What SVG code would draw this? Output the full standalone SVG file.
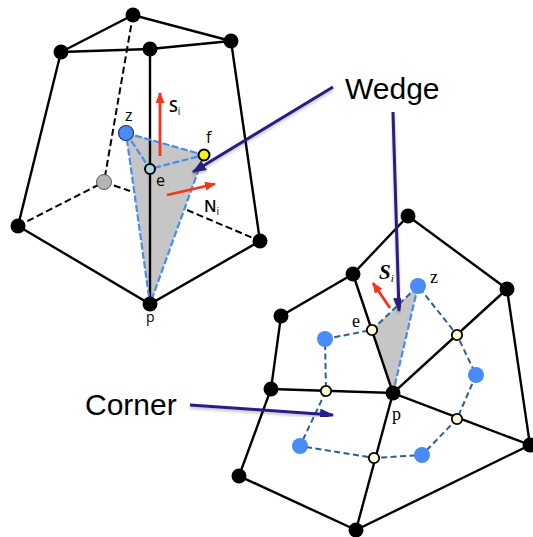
<svg xmlns="http://www.w3.org/2000/svg" width="533" height="537" viewBox="0 0 533 537">
<style>
.e{stroke:#000;stroke-width:2.4;fill:none}
.d{stroke:#000;stroke-width:2;fill:none;stroke-dasharray:7 3.5}
.b{stroke:#4a8bee;stroke-width:2.2;fill:none;stroke-dasharray:7 2.5}
.n{stroke:#2f5f8f;stroke-width:2;fill:none;stroke-dasharray:6 3.5}
.r{stroke:#f8331a;stroke-width:2.8;fill:none}
.a{stroke:#2a1d80;stroke-width:3;fill:none;filter:url(#sh)}
.k{fill:#000}
.u{fill:#4a8cf7}
.m{fill:#fbfbd2;stroke:#000;stroke-width:1.8}
.s{font-family:"Open Sans","Liberation Sans",sans-serif;fill:#000}
.t{font-family:"Liberation Serif",serif;fill:#000}
.big{font-family:"Liberation Sans",sans-serif;font-size:30px;fill:#000}
</style>
<defs>
<filter id="sh" x="-20%" y="-20%" width="140%" height="140%"><feDropShadow dx="0" dy="2" stdDeviation="1.5" flood-color="#000" flood-opacity="0.25"/></filter>
<marker id="ra" markerUnits="userSpaceOnUse" markerWidth="12" markerHeight="10" refX="10" refY="4.5" orient="auto"><path d="M0 0L11 4.5L0 9Z" fill="#f8331a"/></marker>
<marker id="ba" markerUnits="userSpaceOnUse" markerWidth="15" markerHeight="12" refX="13" refY="5.5" orient="auto"><path d="M0 0L14 5.5L0 11Z" fill="#2a1d80"/></marker>
</defs>
<g id="wedge-fills">
<polygon points="126,133 204,155 150,304" fill="#c6c6c6"/>
<polygon points="372,330 418,286 393,393" fill="#c6c6c6"/>
</g>
<g id="connectors">
<path class="e" d="M61,52L133,15L231,41L150,49L61,52M61,52L18,226L150,304L260,241L231,41M150,49V304"/>
<path class="d" d="M133,15L104,182M18,226L104,182M104,182L130,191M187,210L260,241"/>
<path class="b" d="M126,133L204,155L150,304L126,133M126,133L150,169L204,155"/>
<path class="e" d="M408,216L507,289L530,445L356,530L239,476L271,389L281,316L353,274L408,216M353,274L393,393L271,389M507,289L393,393L530,445M393,393L356,530"/>
<path class="n" d="M325,339L372,330L418,286L457,335L476,375L457,419L422,455L374,458L300,446L326,391L325,339"/>
<path class="b" d="M418,286L393,393"/>
<path class="r" marker-end="url(#ra)" d="M160,156V93"/>
<path class="r" marker-end="url(#ra)" d="M167,195L215,184"/>
<path class="r" marker-end="url(#ra)" d="M390,308L373,283"/>
<path class="a" marker-end="url(#ba)" d="M333,87L193,172"/>
<path class="a" marker-end="url(#ba)" d="M393,112L399,311"/>
<path class="a" marker-end="url(#ba)" d="M190,405L333,415"/>
</g>
<g id="nodes">
<circle id="t1" class="k" cx="133" cy="15" r="7.5"/>
<circle id="t2" class="k" cx="231" cy="41" r="7.5"/>
<circle id="t3" class="k" cx="150" cy="49" r="7.5"/>
<circle id="t4" class="k" cx="61" cy="52" r="7.5"/>
<circle id="t5" class="k" cx="18" cy="226" r="7.5"/>
<circle id="t6" class="k" cx="260" cy="241" r="7.5"/>
<circle id="t7" class="k" cx="150" cy="304" r="7.5"/>
<circle id="t-gray" cx="104" cy="182" r="7.5" fill="#b4b4b4" stroke="#555" stroke-width="1"/>
<circle id="t-z" cx="126" cy="133" r="7.5" fill="#4a8cf7" stroke="#1d3b70" stroke-width="1.2"/>
<circle id="t-f" cx="204" cy="155" r="5.5" fill="#f8f020" stroke="#000" stroke-width="2"/>
<circle id="t-e" cx="150" cy="169" r="5" fill="#a4d8e4" stroke="#000" stroke-width="2"/>
<circle id="b1" class="k" cx="408" cy="216" r="7.5"/>
<circle id="b2" class="k" cx="507" cy="289" r="7.5"/>
<circle id="b3" class="k" cx="353" cy="274" r="7.5"/>
<circle id="b4" class="k" cx="281" cy="316" r="7.5"/>
<circle id="b5" class="k" cx="271" cy="389" r="7.5"/>
<circle id="b6" class="k" cx="393" cy="393" r="7.5"/>
<circle id="b7" class="k" cx="239" cy="476" r="7.5"/>
<circle id="b8" class="k" cx="356" cy="530" r="7.5"/>
<circle id="b9" class="k" cx="530" cy="445" r="7.5"/>
<circle id="m1" class="m" cx="372" cy="330" r="5.2"/>
<circle id="m2" class="m" cx="457" cy="335" r="5.2"/>
<circle id="m3" class="m" cx="326" cy="391" r="5.2"/>
<circle id="m4" class="m" cx="457" cy="419" r="5.2"/>
<circle id="m5" class="m" cx="374" cy="458" r="5.2"/>
<circle id="u1" class="u" cx="418" cy="286" r="8"/>
<circle id="u2" class="u" cx="325" cy="339" r="8"/>
<circle id="u3" class="u" cx="476" cy="375" r="8"/>
<circle id="u4" class="u" cx="422" cy="455" r="8"/>
<circle id="u5" class="u" cx="300" cy="446" r="8"/>
</g>
<g id="labels">
<text class="big" x="345" y="99">Wedge</text>
<text class="big" x="85" y="415">Corner</text>
<text class="s" x="125" y="121" font-size="16">z</text>
<text class="s" x="206" y="143" font-size="16">f</text>
<text class="s" x="156" y="186" font-size="16">e</text>
<text class="s" x="146" y="322" font-size="14">p</text>
<text class="s" x="169" y="112" font-size="16" font-weight="600">S<tspan font-size="10" font-weight="400" dy="3">i</tspan></text>
<text class="s" x="204" y="212" font-size="16" font-weight="600">N<tspan font-size="10" font-weight="400" dy="3">i</tspan></text>
<text class="t" x="430" y="283" font-size="18">z</text>
<text class="t" x="352" y="327" font-size="18">e</text>
<text class="t" x="392" y="420" font-size="18">p</text>
<text class="t" x="379" y="279" font-size="21" font-weight="bold" font-style="italic">S<tspan font-size="11" font-weight="normal" dy="3">i</tspan></text>
</g>
</svg>
